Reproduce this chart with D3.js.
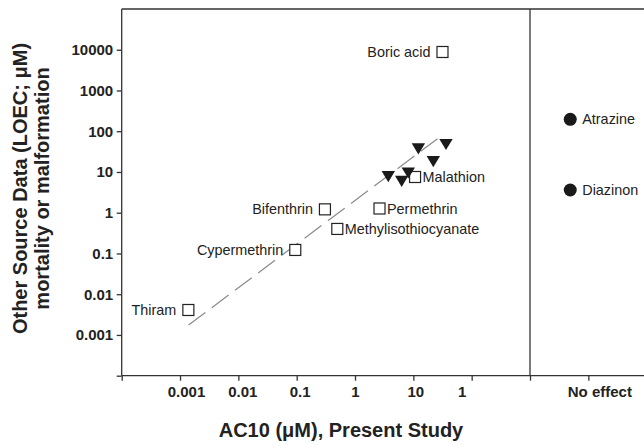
<!DOCTYPE html>
<html><head><meta charset="utf-8">
<script src="https://cdn.jsdelivr.net/npm/d3@7"></script>
<style>
html,body{margin:0;padding:0;background:#fff;}
svg{display:block;font-family:"Liberation Sans",Arial,sans-serif;}
</style></head><body>
<svg id="chart" width="644" height="445"></svg>
<script>
// Compounds with a literature LOEC and an AC10 from the present study
const squareNames = ["Boric acid", "Thiram", "Cypermethrin", "Bifenthrin", "Methylisothiocyanate", "Permethrin", "Malathion"];
const squareAC10  = [31.6, 0.00139, 0.0946, 0.305, 0.497, 2.63, 10.7];
const squareLOEC  = [8810, 0.0041, 0.122, 1.21, 0.40, 1.27, 7.53];

// Additional compounds (filled triangles)
const triangleAC10 = [3.72, 6.31, 8.19, 12.2, 22.0, 36.3];
const triangleLOEC = [7.67, 5.91, 9.45, 37.1, 17.9, 47.3];

// Compounds with no effect in the present study
const noEffectNames = ["Atrazine", "Diazinon"];
const noEffectLOEC  = [196, 3.61];

// End points of the fitted trend line
const fitAC10 = [0.0014, 32];
const fitLOEC = [0.00175, 82];

// Axis ticks and labels
const yTickValues = [1e-4, 1e-3, 0.01, 0.1, 1, 10, 100, 1000, 10000];
const yTickLabels = ["", "0.001", "0.01", "0.1", "1", "10", "100", "1000", "10000"];
const xTickValues = [1e-4, 1e-3, 0.01, 0.1, 1, 10, 100, 1000];
const xTickLabels = ["", "0.001", "0.01", "0.1", "1", "10", "1", ""];
const noEffectLabel = "No effect";

(function draw() {
  const svg = d3.select("#chart");
  const ink = "#222";
  const frame = "#333";

  const plotLeft = 121.7, plotTop = 9, plotBottom = 375.7;
  const x = d3.scaleLog().domain([1e-4, 1e3]).range([plotLeft, 530]);
  const y = d3.scaleLog().domain([1e-4, 1e5]).range([plotBottom, plotTop]);
  const decade = x(10) - x(1);
  // right-hand "no effect" panel, two decade-widths wide
  const xPanel = d3.scaleLinear().domain([0, 2]).range([x(1e3), x(1e3) + 2 * decade]);
  const dotColumn = 0.69;

  // Frame
  const g = svg.append("g");
  const frameLine = (x1, y1, x2, y2) => g.append("line")
    .attr("x1", x1).attr("y1", y1).attr("x2", x2).attr("y2", y2)
    .attr("stroke", frame).attr("stroke-width", 1.3);
  frameLine(plotLeft, plotTop, plotLeft, plotBottom);
  frameLine(plotLeft, plotBottom, xPanel(2), plotBottom);
  frameLine(plotLeft, plotTop, xPanel(2), plotTop);
  frameLine(x(1e3), plotTop, x(1e3), plotBottom);

  const styleTicks = sel => {
    sel.select(".domain").remove();
    sel.selectAll("line").attr("stroke", frame).attr("stroke-width", 1.3);
    sel.selectAll("text").attr("font-size", 15).attr("font-weight", "bold").attr("fill", ink)
      .attr("font-family", "Liberation Sans, Arial, sans-serif");
  };

  // Y axis
  const yAxis = d3.axisLeft(y).tickValues(yTickValues)
    .tickFormat((d, i) => yTickLabels[i]).tickSize(5).tickSizeOuter(0).tickPadding(3.5);
  svg.append("g").attr("transform", `translate(${plotLeft},0)`).call(yAxis).call(styleTicks);

  // X axis (log part)
  const xLabelNudge = [0, 6, 4, 3, 0, 2, -10, 0];
  const xAxis = d3.axisBottom(x).tickValues(xTickValues)
    .tickFormat((d, i) => xTickLabels[i]).tickSize(5).tickSizeOuter(0).tickPadding(6);
  svg.append("g").attr("transform", `translate(0,${plotBottom})`).call(xAxis).call(styleTicks)
    .selectAll("text").attr("dx", (d, i) => xLabelNudge[i]);

  // X axis (no-effect panel)
  const pAxis = d3.axisBottom(xPanel).tickValues([1]).tickFormat(() => noEffectLabel)
    .tickSize(5).tickSizeOuter(0).tickPadding(6);
  svg.append("g").attr("transform", `translate(0,${plotBottom})`).call(pAxis).call(styleTicks)
    .selectAll("text").attr("dx", 11);

  // Axis titles
  svg.append("text").attr("x", 341).attr("y", 437).attr("text-anchor", "middle")
    .attr("font-size", 20).attr("font-weight", "bold").attr("fill", ink)
    .text("AC10 (μM), Present Study");
  const yt = svg.append("text").attr("transform", "translate(26.5,188.5) rotate(-90)")
    .attr("text-anchor", "middle").attr("font-size", 20).attr("font-weight", "bold").attr("fill", ink);
  yt.append("tspan").attr("x", 0).attr("y", 0).text("Other Source Data (LOEC; μM)");
  yt.append("tspan").attr("x", 0).attr("y", 22.5).text("mortality or malformation");

  // Trend line
  svg.append("path")
    .datum(fitAC10.map((v, i) => [v, fitLOEC[i]]))
    .attr("d", d3.line().x(d => x(d[0])).y(d => y(d[1])))
    .attr("fill", "none").attr("stroke", "#8a8a8a").attr("stroke-width", 1.2)
    .attr("stroke-dasharray", "21,8");

  // Open squares with labels
  const squares = squareNames.map((n, i) => ({ name: n, ac: squareAC10[i], loec: squareLOEC[i] }));
  const labelLeft = new Set(["Boric acid", "Thiram", "Cypermethrin", "Bifenthrin"]);
  const sq = 11;
  svg.append("g").selectAll("rect").data(squares).join("rect")
    .attr("x", d => x(d.ac) - sq / 2).attr("y", d => y(d.loec) - sq / 2)
    .attr("width", sq).attr("height", sq)
    .attr("fill", "#fff").attr("stroke", ink).attr("stroke-width", 1.2);
  svg.append("g").selectAll("text").data(squares).join("text")
    .attr("x", d => labelLeft.has(d.name) ? x(d.ac) - 12 : x(d.ac) + 7.5)
    .attr("y", d => y(d.loec)).attr("dy", "0.35em")
    .attr("text-anchor", d => labelLeft.has(d.name) ? "end" : "start")
    .attr("font-size", 14.4).attr("fill", ink).text(d => d.name);

  // Filled downward triangles
  const tri = triangleAC10.map((v, i) => ({ ac: v, loec: triangleLOEC[i] }));
  svg.append("g").selectAll("path").data(tri).join("path")
    .attr("transform", d => `translate(${x(d.ac)},${y(d.loec)})`)
    .attr("d", "M-6.7,-5.6L6.7,-5.6L0,5.6Z")
    .attr("fill", "#1a1a1a");

  // No-effect compounds
  const dots = noEffectNames.map((n, i) => ({ name: n, loec: noEffectLOEC[i] }));
  svg.append("g").selectAll("circle").data(dots).join("circle")
    .attr("cx", xPanel(dotColumn)).attr("cy", d => y(d.loec)).attr("r", 6.5)
    .attr("fill", "#1a1a1a");
  svg.append("g").selectAll("text").data(dots).join("text")
    .attr("x", xPanel(dotColumn) + 12).attr("y", d => y(d.loec)).attr("dy", "0.35em")
    .attr("font-size", 14.4).attr("fill", ink).text(d => d.name);
})();
</script>
</body></html>
